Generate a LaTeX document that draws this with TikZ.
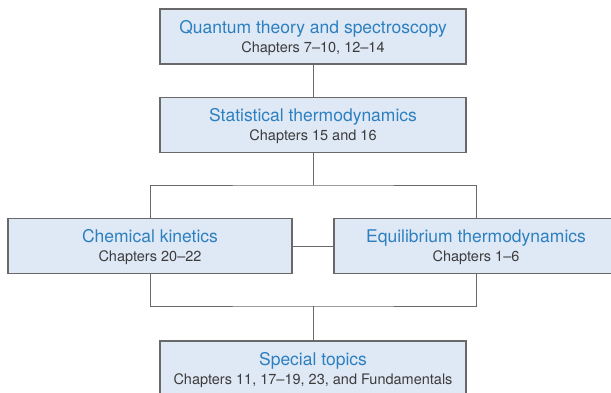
\documentclass[tikz,border=0pt]{standalone}
\usepackage{fontspec}
\setmainfont{TeX Gyre Heros}
\definecolor{titleblue}{RGB}{45,128,192}
\definecolor{subgray}{RGB}{60,60,60}
\definecolor{boxfill}{RGB}{223,232,245}
\definecolor{edgegray}{RGB}{105,105,105}
\newcommand{\boxtext}[2]{\rule[-5pt]{0pt}{21pt}{\color{titleblue}\fontsize{17.5}{20}\selectfont #1}\\[1pt]\rule[-4pt]{0pt}{16pt}{\color{subgray}\fontsize{14.5}{16}\selectfont #2}}

\begin{document}
\begin{tikzpicture}[x=1pt, y=-1pt,
    topicbox/.style={draw=edgegray, line width=1.1pt, fill=boxfill, align=center,
                     minimum width=306pt, minimum height=55pt, inner sep=0pt},
    wide/.style={minimum width=284pt},
    link/.style={draw=edgegray, line width=0.9pt}]
    % ==== CANVAS ====
    \useasboundingbox (0,0) rectangle (611,392);

    % ==== BOXES ====
    \node[topicbox] (quantum) at (313,36.5) {\boxtext{Quantum theory and spectroscopy}{Chapters 7--10, 12--14}};
    \node[topicbox] (stat) at (313,125) {\boxtext{Statistical thermodynamics}{Chapters 15 and 16}};
    \node[topicbox, wide] (chem) at (150,246) {\boxtext{Chemical kinetics}{Chapters 20--22}};
    \node[topicbox, wide] (equil) at (476,246) {\boxtext{Equilibrium thermodynamics}{Chapters 1--6}};
    \node[topicbox] (special) at (313,368.5) {\boxtext{Special topics}{Chapters 11, 17--19, 23, and Fundamentals}};

    % ==== JUNCTIONS ====
    \coordinate (split) at (313,185);
    \coordinate (merge) at (313,306);

    % ==== CONNECTORS ====
    \draw[link] (quantum.south) -- (stat.north);
    \draw[link] (stat.south) -- (split);
    \draw[link] (chem.north) |- (split) -| (equil.north);
    \draw[link] (chem.east) -- (equil.west);
    \draw[link] (chem.south) |- (merge) -| (equil.south);
    \draw[link] (merge) -- (special.north);
\end{tikzpicture}
\end{document}
